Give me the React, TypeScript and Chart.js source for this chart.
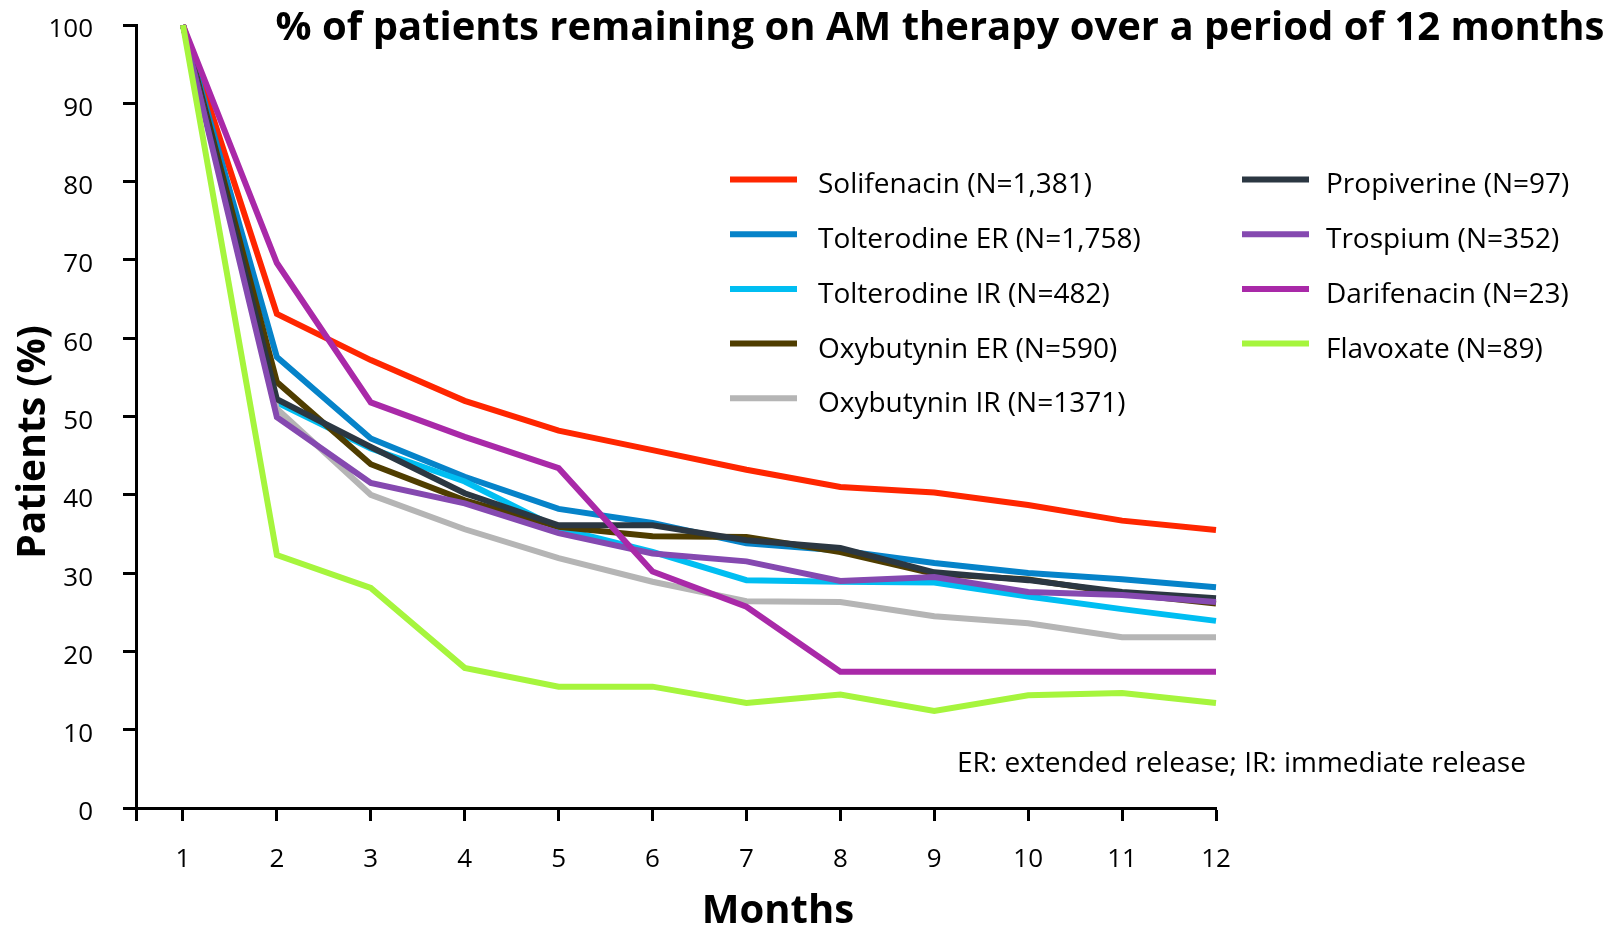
import React, { useEffect, useRef } from 'react';
import { Chart, registerables } from 'chart.js';

Chart.register(...registerables);

// ---------- data ----------
const months = [1, 2, 3, 4, 5, 6, 7, 8, 9, 10, 11, 12];
const xTickValues = [0.5, 1, 2, 3, 4, 5, 6, 7, 8, 9, 10, 11, 12];
const yTickValues = [0, 10, 20, 30, 40, 50, 60, 70, 80, 90, 100];

const seriesLabels = [
  'Solifenacin (N=1,381)',
  'Tolterodine ER (N=1,758)',
  'Tolterodine IR (N=482)',
  'Oxybutynin ER (N=590)',
  'Oxybutynin IR (N=1371)',
  'Propiverine (N=97)',
  'Trospium (N=352)',
  'Darifenacin (N=23)',
  'Flavoxate (N=89)',
];
const seriesColors = [
  '#FF2600',
  '#0683C9',
  '#00BEF2',
  '#4F3D00',
  '#B5B5B5',
  '#2B3742',
  '#8549B0',
  '#A929A8',
  '#A6F53D',
];

const solifenacin = [100, 63.1, 57.2, 52.0, 48.2, 45.7, 43.2, 41.0, 40.3, 38.7, 36.7, 35.5];
const tolterodineER = [100, 57.6, 47.2, 42.3, 38.2, 36.4, 33.8, 32.9, 31.3, 30.0, 29.2, 28.2];
const tolterodineIR = [100, 51.8, 45.9, 41.7, 35.7, 32.7, 29.1, 28.9, 28.8, 27.0, 25.4, 23.9];
const oxybutyninER = [100, 54.4, 43.9, 39.3, 35.9, 34.7, 34.6, 32.7, 29.9, 29.2, 27.4, 26.1];
const oxybutyninIR = [100, 51.0, 40.0, 35.6, 31.9, 28.9, 26.4, 26.3, 24.5, 23.6, 21.8, 21.8];
const propiverine = [100, 52.2, 46.1, 40.2, 36.1, 36.1, 34.2, 33.2, 30.1, 29.1, 27.6, 26.8];
const trospium = [100, 49.9, 41.5, 38.9, 35.1, 32.5, 31.5, 29.0, 29.5, 27.6, 27.2, 26.3];
const darifenacin = [100, 69.6, 51.8, 47.4, 43.4, 30.2, 25.7, 17.4, 17.4, 17.4, 17.4, 17.4];
const flavoxate = [100, 32.3, 28.1, 17.9, 15.5, 15.5, 13.4, 14.5, 12.4, 14.4, 14.7, 13.4];

const seriesValues = [
  solifenacin, tolterodineER, tolterodineIR, oxybutyninER, oxybutyninIR,
  propiverine, trospium, darifenacin, flavoxate,
];

const titleText = '% of patients remaining on AM therapy over a period of 12 months';
const yTitleText = 'Patients (%)';
const xTitleText = 'Months';
const noteText = 'ER: extended release; IR: immediate release';

const FONT = "'Open Sans', 'DejaVu Sans', sans-serif";

const textPlugin = {
  id: 'customText',
  afterDraw(chart: any) {
    const ctx = chart.ctx as CanvasRenderingContext2D;
    ctx.save();
    ctx.fillStyle = '#000';
    // title
    ctx.font = `bold 40px ${FONT}`;
    ctx.textAlign = 'center';
    ctx.textBaseline = 'middle';
    ctx.fillText(titleText, 940, 29);
    // y title
    ctx.save();
    ctx.translate(34, 442);
    ctx.rotate(-Math.PI / 2);
    ctx.font = `bold 39px ${FONT}`;
    ctx.fillText(yTitleText, 0, 0);
    ctx.restore();
    // x title
    ctx.font = `bold 40px ${FONT}`;
    ctx.fillText(xTitleText, 778, 912);
    // note
    ctx.font = `28px ${FONT}`;
    ctx.textAlign = 'left';
    ctx.fillText(noteText, 957, 764);
    // legend
    const ds = chart.data.datasets;
    ctx.font = `28px ${FONT}`;
    for (let i = 0; i < ds.length; i++) {
      const col = i < 5 ? 0 : 1;
      const row = i < 5 ? i : i - 5;
      const lx = col === 0 ? 730 : 1242;
      const tx = col === 0 ? 818 : 1326;
      const y = 179.5 + row * 54.7;
      ctx.strokeStyle = ds[i].borderColor;
      ctx.lineWidth = 6;
      ctx.lineCap = 'butt';
      ctx.beginPath();
      ctx.moveTo(lx, y);
      ctx.lineTo(lx + 67, y);
      ctx.stroke();
      ctx.fillStyle = '#000';
      ctx.textBaseline = 'middle';
      ctx.fillText(ds[i].label, tx, y + 6);
    }
    ctx.restore();
  },
};

export default function App() {
  const ref = useRef<HTMLCanvasElement | null>(null);
  useEffect(() => {
    if (!ref.current) return;
    const n = seriesLabels.length;
    const chart = new Chart(ref.current, {
      type: 'line',
      data: {
        datasets: seriesLabels.map((label, i) => ({
          label,
          data: months.map((m, j) => ({ x: m, y: seriesValues[i][j] })),
          borderColor: seriesColors[i],
          backgroundColor: seriesColors[i],
          borderWidth: 6,
          pointRadius: 0,
          tension: 0,
          fill: false,
          clip: false as any,
          order: n - i,
        })),
      },
      options: {
        responsive: false,
        animation: false,
        devicePixelRatio: 1,
        layout: { padding: { left: 0, top: 25, right: 407, bottom: 0 } },
        plugins: {
          legend: { display: false },
          tooltip: { enabled: false },
          title: { display: false },
        },
        scales: {
          x: {
            type: 'linear',
            min: 0.5,
            max: 12,
            afterBuildTicks: (scale: any) => {
              scale.ticks = xTickValues.map((v) => ({ value: v }));
            },
            afterFit: (scale: any) => {
              scale.height = 119;
              scale.paddingLeft = 0;
              scale.paddingRight = 0;
            },
            ticks: {
              autoSkip: false,
              maxRotation: 0,
              padding: 23,
              color: '#000',
              font: { family: FONT, size: 26 },
              callback: (v: any) => (Number(v) === 0.5 ? '' : String(v)),
            },
            grid: {
              drawOnChartArea: false,
              drawTicks: true,
              tickLength: 13,
              tickWidth: 3,
              tickColor: '#000',
            },
            border: { display: true, color: '#000', width: 3 },
          },
          y: {
            type: 'linear',
            min: 0,
            max: 100,
            afterBuildTicks: (scale: any) => {
              scale.ticks = yTickValues.map((v) => ({ value: v }));
            },
            afterFit: (scale: any) => {
              scale.width = 136;
              scale.paddingTop = 0;
              scale.paddingBottom = 0;
            },
            ticks: {
              padding: 30,
              labelOffset: 5,
              color: '#000',
              font: { family: FONT, size: 26 },
            },
            grid: {
              drawOnChartArea: false,
              drawTicks: true,
              tickLength: 13,
              tickWidth: 3,
              tickColor: '#000',
            },
            border: { display: true, color: '#000', width: 3 },
          },
        },
      },
      plugins: [textPlugin],
    });
    return () => chart.destroy();
  }, []);

  return (
    <div style={{ position: 'fixed', left: 0, top: 0, width: 1623, height: 927, background: '#fff' }}>
      <canvas ref={ref} width={1623} height={927} style={{ display: 'block' }} />
    </div>
  );
}
